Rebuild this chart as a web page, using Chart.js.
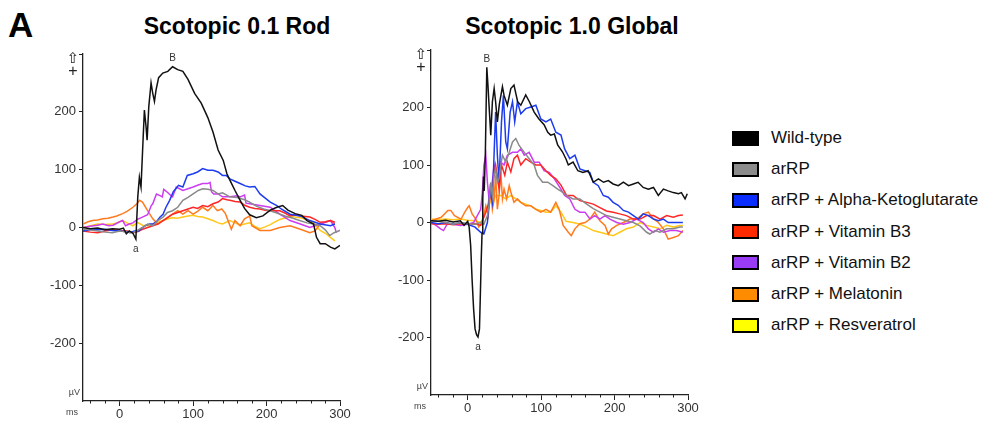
<!DOCTYPE html>
<html>
<head>
<meta charset="utf-8">
<script src="https://cdn.jsdelivr.net/npm/chart.js@4.4.0/dist/chart.umd.min.js"></script>
<style>
body { margin: 0; width: 997px; height: 422px; background: #fff; position: relative; overflow: hidden; font-family: "Liberation Sans", Arial, sans-serif; }
canvas { position: absolute; top: 0; }
#rodChart { left: 0; }
#globalChart { left: 360px; }
.panel { position: absolute; left: 8px; top: 7px; font-size: 35px; font-weight: bold; line-height: 1; }
.title { position: absolute; top: 15px; font-size: 23px; font-weight: bold; line-height: 1; white-space: nowrap; transform: translateX(-50%); }
.row { position: absolute; left: 732px; height: 20px; display: flex; align-items: center; font-size: 17px; color: #111; white-space: nowrap; }
.box { width: 27px; height: 15px; box-sizing: border-box; border: 2px solid #000; margin-right: 12px; }
</style>
</head>
<body>
<div class="panel">A</div>
<div class="title" style="left:237px">Scotopic 0.1 Rod</div>
<div class="title" style="left:572px">Scotopic 1.0 Global</div>
<canvas id="rodChart" width="360" height="422"></canvas>
<canvas id="globalChart" width="350" height="422"></canvas>
<div id="legend"></div>
<script>
const seriesNames = ["Wild-type", "arRP", "arRP + Alpha-Ketoglutarate", "arRP + Vitamin B3", "arRP + Vitamin B2", "arRP + Melatonin", "arRP + Resveratrol"];
const lineColors = ["#111111", "#8a8a8a", "#1d3cf0", "#ff2626", "#cc3cf0", "#ff7a1e", "#ffc81a"];
const boxColors = ["#000000", "#8c8c8c", "#0a2dff", "#ff2a00", "#9a3cf5", "#ff8c00", "#ffff00"];
const xTicks = [0, 100, 200, 300];
const yTicks = [-200, -100, 0, 100, 200, 300];

// Scotopic 0.1 Rod, [ms, uV]
const rodWild = [[-50,0],[-40,-2],[-30,-1],[-20,-4],[-10,-2],[0,-3],[5,-1],[9,-11],[13,-6],[18,-10],[22,-20],[24.6,53],[26.8,87],[29,70],[31.4,140],[33.6,203],[35.9,174],[37.3,151],[39.6,209],[42.7,250],[45,232],[47.3,218],[49.5,238],[53,259],[58.7,267],[65.5,270],[72,278],[79,273],[86,270],[93,256],[102,232],[111,215],[120,190],[127,165],[134,134],[141,116],[146,93],[150,82],[157,64],[164,47],[170,33],[177,22],[186,17],[195,20],[205,30],[214,35],[222,38],[229,30],[239,24],[248,21],[255,12],[264,6],[268,-17],[273,-28],[280,-28],[287,-34],[293,-37],[300,-31]];
const rodArRP = [[-50,-3],[-40,-4],[-30,-6],[-20,-8],[-10,-9],[0,-6],[10,-8],[18,-9],[25,-4],[31,0],[38,6],[45,3],[52,12],[59,18],[65,26],[72,29],[79,35],[86,47],[93,52],[100,58],[107,64],[113,67],[120,66],[127,64],[134,58],[140,60],[150,53],[160,52],[170,48],[177,44],[186,37],[196,32],[205,29],[214,25],[225,20],[236,16],[245,12],[255,8],[264,6],[273,3],[280,-4],[286,-14],[292,-9],[298,-6],[304,-3]];
const rodAkg = [[-50,-6],[-40,-4],[-30,-4],[-20,-3],[-10,-5],[0,-6],[8,-7],[14,-9],[20,-6],[26,-6],[31,0],[36,4],[41,6],[45,6],[50,10],[55,18],[59,23],[63,35],[68,47],[73,62],[77,68],[80,73],[86,70],[92,90],[100,93],[106,96],[113,102],[120,99],[127,99],[134,96],[140,90],[145,90],[150,84],[157,80],[164,76],[171,72],[177,70],[184,71],[191,58],[205,44],[214,38],[220,32],[232,23],[246,20],[259,12],[273,6],[287,3],[293,6]];
const rodB3 = [[-50,-6],[-40,-8],[-30,-9],[-20,-6],[-10,-4],[0,-5],[10,-6],[18,-9],[25,-7],[31,-3],[38,0],[45,3],[52,6],[59,12],[66,18],[72,23],[79,26],[86,29],[93,32],[100,35],[106,33],[113,38],[120,36],[127,41],[134,44],[140,50],[146,48],[150,47],[157,45],[164,44],[171,38],[177,35],[184,33],[191,32],[198,30],[205,29],[212,29],[218,29],[225,25],[232,20],[239,22],[246,20],[253,19],[259,18],[266,14],[273,9],[280,10],[287,12],[293,9]];
const rodB2 = [[-50,0],[-40,2],[-30,4],[-23,6],[-15,3],[-9,4],[0,10],[4,12],[8,3],[13,6],[18,8],[24,14],[31,18],[38,22],[43,38],[45,41],[50,58],[55,55],[58,53],[60,66],[65,61],[70,55],[72,53],[77,70],[86,64],[95,68],[100,70],[106,73],[113,76],[120,76],[123,78],[125,62],[128,58],[134,58],[140,53],[150,53],[160,55],[164,53],[170,56],[172,42],[177,41],[191,38],[205,35],[218,23],[232,12],[246,6],[259,0],[273,6],[287,12],[293,0],[295,-9]];
const rodMel = [[-50,6],[-43,10],[-37,12],[-30,13],[-23,15],[-16,16],[-9,18],[-4,20],[4,24],[10,28],[18,35],[24,42],[27,47],[31,44],[38,29],[45,15],[52,6],[59,12],[66,18],[72,23],[79,29],[86,23],[93,29],[100,23],[106,28],[113,35],[120,29],[127,38],[133,29],[139,32],[144,24],[152,-3],[157,12],[164,3],[170,15],[177,20],[180,3],[191,-5],[205,-5],[218,0],[232,3],[246,-3],[259,-9],[266,-6],[273,6],[287,12],[293,6]];
const rodRes = [[-50,0],[-40,3],[-30,6],[-20,5],[-10,6],[-4,8],[4,12],[10,8],[18,3],[24,9],[31,4],[38,3],[45,6],[52,9],[59,12],[66,15],[72,17],[79,16],[86,18],[93,20],[100,21],[106,19],[113,18],[120,15],[127,12],[134,8],[140,6],[150,12],[157,8],[164,4],[170,6],[177,8],[184,2],[191,-2],[198,1],[205,5],[212,10],[218,14],[232,19],[246,17],[259,12],[266,5],[273,-5],[280,-10],[287,-17],[293,-23]];

// Scotopic 1.0 Global, [ms, uV]
const globWild = [[-50,3],[-40,2],[-30,4],[-20,1],[-10,3],[-5,-5],[0,2],[2,-8],[4,-40],[6,-100],[8,-150],[10,-185],[12,-195],[14,-199],[16,-185],[17,-136],[18.5,-60],[19.5,-19],[20.5,40],[21.5,80],[22.5,55],[24,120],[26,270],[27.5,240],[29,205],[31.4,152],[33.6,210],[36,233],[38,210],[40.4,175],[43,205],[47.3,236],[49.5,221],[54,204],[58.7,233],[63,239],[68,210],[72.3,204],[79,222],[84,210],[90.5,192],[97,180],[104,170],[109,157],[113,152],[118,154],[122.5,135],[129,123],[134,110],[137,100],[143.5,105],[150,90],[157,87],[164,90],[171,70],[178,76],[185,70],[191.5,73],[198,67],[205,64],[212,70],[219,64],[225.6,67],[232,70],[239,61],[246,58],[253,61],[259.6,47],[266.5,58],[273,55],[280,52],[287,50],[291,52],[296,41],[299,50]];
const globArRP = [[-50,3],[-40,2],[-30,0],[-20,-3],[-10,0],[0,-2],[10,-3],[17.7,0],[22,-3],[26.8,12],[29,30],[31.4,70],[33.6,47],[36,85],[38,93],[40.4,70],[42.7,76],[45,100],[47.3,117],[51.8,105],[56.5,122],[61,140],[65.5,146],[70,134],[77,122],[83.7,111],[90.5,100],[95,82],[102,70],[109,70],[116,64],[122.5,58],[129,53],[134.6,47],[143.5,41],[152.8,41],[162,32],[171,24],[180,18],[189,12],[198,9],[207,6],[216,3],[225.6,0],[234.7,-6],[243.7,-17],[248,-20],[255,-14],[262,-17],[271,-11],[280,-11],[289,-8],[293,-8]];
const globAkg = [[-50,0],[-40,-2],[-30,0],[-20,-3],[-10,0],[0,-3],[10,-8],[17.7,-17],[22,-20],[26.8,0],[30.5,58],[33.6,35],[36,122],[38,192],[40.4,117],[42.7,70],[46,175],[48.6,221],[51.8,140],[54,128],[57.8,192],[61,210],[64,175],[67.7,210],[72.3,189],[79,198],[86,201],[92.8,204],[99.6,180],[106.5,175],[113,180],[120,157],[127,152],[132,128],[139,111],[146,117],[152.8,93],[159.6,90],[166.4,87],[171,70],[177.8,64],[184.6,47],[191.5,44],[198,35],[205,30],[212,21],[219,18],[225.6,12],[232.5,6],[239,15],[246,12],[253,6],[259.6,3],[266.5,6],[273,0],[282,0],[293,0]];
const globB3 = [[-50,-2],[-40,-3],[-30,-2],[-20,-4],[-10,-2],[0,-3],[10,-2],[17.7,-5],[24.6,18],[29,35],[33.6,65],[38,100],[42.7,58],[46,100],[50.5,82],[54,105],[58.7,88],[63,111],[67.7,117],[72.3,100],[79,111],[86,105],[92.8,100],[99.6,100],[106.5,90],[113,82],[120,76],[127,65],[134.6,47],[143.5,47],[152.8,38],[162,35],[171,32],[180,26],[189,20],[198,18],[207,15],[216,12],[225.6,6],[234.7,6],[243.7,12],[253,12],[262,6],[271,12],[280,9],[287,12],[293,13]];
const globB2 = [[-50,0],[-43,-5],[-37,-11],[-33,-14],[-28,-3],[-20,-3],[-10,-5],[0,-3],[8,0],[17.7,23],[20,53],[22,99],[24.6,117],[26.8,70],[29,41],[31.4,47],[36,100],[40.4,76],[45,105],[49.5,100],[54,117],[61,122],[67.7,122],[72.3,128],[77,117],[83.7,122],[90.5,105],[97.4,105],[104,90],[111,87],[118,76],[125,62],[132,47],[139,41],[146,23],[152.8,18],[159.6,18],[166.4,6],[173,12],[180,6],[187,12],[193.7,6],[203,0],[212,-3],[221,0],[230,6],[239,0],[246,-11],[253,-17],[259.6,-11],[266.5,-17],[275.6,-14],[284.6,-14],[293,-17]];
const globMel = [[-50,3],[-43,6],[-36,9],[-27,21],[-23,21],[-18,12],[-9,6],[-4,18],[0,26],[2,29],[6,15],[11,6],[15,-8],[20,0],[24.6,29],[28,12],[31.4,58],[33.6,23],[36,41],[38,82],[40.4,23],[42.7,47],[45,88],[47.3,41],[49.5,58],[53,41],[56.5,64],[58.7,53],[63,35],[67.7,41],[72.3,35],[79,29],[86,29],[92.8,23],[99.6,18],[106.5,23],[113,18],[120,35],[124.5,23],[130,-5],[137,-17],[141,-23],[146,-11],[152.8,-2],[160,0],[166.4,6],[173,18],[180,3],[187,-5],[191.5,-20],[196,-11],[203,-5],[212,0],[221,6],[230,6],[239,15],[246,18],[253,6],[259.6,0],[266.5,-11],[273,-29],[280,-26],[287,-23],[293,-14]];
const globRes = [[-50,6],[-40,5],[-30,6],[-20,5],[-10,6],[0,4],[10,3],[17.7,0],[24.6,18],[29,41],[33.6,30],[38,47],[45,47],[51.8,41],[58.7,47],[65.5,41],[72.3,35],[79,32],[86,29],[92.8,23],[99.6,21],[106.5,18],[113,18],[120,29],[127,18],[134,2],[143.5,0],[152.8,-3],[162,-8],[171,-14],[180,-17],[189,-20],[198,-23],[207,-17],[216,-11],[225.6,-8],[234.7,0],[243.7,-5],[253,-8],[262,-11],[271,-5],[280,-8],[289,-5],[293,-5]];

const FONT = "'Liberation Sans', Arial, sans-serif";

// legend
const legend = document.getElementById('legend');
seriesNames.forEach(function (name, i) {
    const row = document.createElement('div');
    row.className = 'row';
    row.style.top = (128 + i * 31.2) + 'px';
    row.innerHTML = '<span class="box" style="background:' + boxColors[i] + '"></span>' + name;
    legend.appendChild(row);
});

// minor ticks, unit labels and a/B markers
const ergDecor = {
    id: 'ergDecor',
    afterDraw: function (chart) {
        const ctx = chart.ctx;
        const area = chart.chartArea;
        const xs = chart.scales.x;
        const ys = chart.scales.y;
        ctx.save();
        ctx.strokeStyle = '#222';
        ctx.lineWidth = 1;
        for (let v = -40; v <= 300; v += 20) {
            if (v % 100 === 0) continue;
            const px = Math.round(xs.getPixelForValue(v)) + 0.5;
            ctx.beginPath();
            ctx.moveTo(px, area.bottom);
            ctx.lineTo(px, area.bottom + 2.5);
            ctx.stroke();
        }
        ctx.fillStyle = '#444';
        ctx.font = '9px ' + FONT;
        ctx.textAlign = 'right';
        ctx.textBaseline = 'middle';
        ctx.fillText('\u00b5V', area.left - 3, ys.getPixelForValue(-285));
        ctx.fillText('ms', area.left - 5, area.bottom + 12);
        ctx.fillStyle = '#222';
        ctx.textAlign = 'center';
        ctx.font = '15px DejaVu Sans';
        ctx.fillText('\u21e7', area.left - 10, area.top + 5);
        ctx.font = '16px ' + FONT;
        ctx.fillText('+', area.left - 10, area.top + 18);

        // B = b-wave peak, a = a-wave trough (before 60 ms) of the wild-type trace
        const wild = chart.data.datasets[0].data;
        let hi = wild[0], lo = wild[0];
        wild.forEach(function (p) {
            if (p.y > hi.y) hi = p;
            if (p.x < 60 && p.y < lo.y) lo = p;
        });
        ctx.fillStyle = '#333';
        ctx.font = '10px ' + FONT;
        ctx.fillText('B', xs.getPixelForValue(hi.x), ys.getPixelForValue(hi.y) - 8);
        ctx.fillText('a', xs.getPixelForValue(lo.x), ys.getPixelForValue(lo.y) + 10);
        ctx.restore();
    }
};

function makeChart(id, series, pad) {
    return new Chart(document.getElementById(id), {
        type: 'line',
        data: {
            datasets: series.map(function (s, i) {
                return {
                    label: seriesNames[i],
                    data: s.map(function (p) { return { x: p[0], y: p[1] }; }),
                    borderColor: lineColors[i],
                    borderWidth: 1.5,
                    pointRadius: 0,
                    tension: 0,
                    fill: false
                };
            })
        },
        options: {
            responsive: false,
            animation: false,
            layout: { padding: pad },
            plugins: { legend: { display: false }, tooltip: { enabled: false } },
            scales: {
                x: {
                    type: 'linear',
                    min: -50,
                    max: 300,
                    afterBuildTicks: function (s) { s.ticks = xTicks.map(function (v) { return { value: v }; }); },
                    afterFit: function (s) { s.height = 20; },
                    grid: { drawOnChartArea: false, drawTicks: true, tickLength: 5, color: '#222' },
                    border: { display: true, color: '#222', width: 1.3 },
                    ticks: { color: '#333', font: { size: 13, family: FONT }, padding: 1, maxRotation: 0, autoSkip: false }
                },
                y: {
                    type: 'linear',
                    min: -300,
                    max: 300,
                    afterBuildTicks: function (s) { s.ticks = yTicks.map(function (v) { return { value: v }; }); },
                    afterFit: function (s) { s.width = 40; },
                    grid: { drawOnChartArea: false, drawTicks: true, tickLength: 4, color: '#222' },
                    border: { display: true, color: '#222', width: 1.3 },
                    ticks: {
                        color: '#333', font: { size: 13, family: FONT }, padding: 3,
                        callback: function (v) { return Math.abs(v) === 300 ? '' : v; }
                    }
                }
            }
        },
        plugins: [ergDecor]
    });
}

makeChart('rodChart', [rodWild, rodArRP, rodAkg, rodB3, rodB2, rodMel, rodRes], { left: 43, right: 20, top: 54, bottom: 1 });
makeChart('globalChart', [globWild, globArRP, globAkg, globB3, globB2, globMel, globRes], { left: 31, right: 22, top: 50, bottom: 7 });
</script>
</body>
</html>
